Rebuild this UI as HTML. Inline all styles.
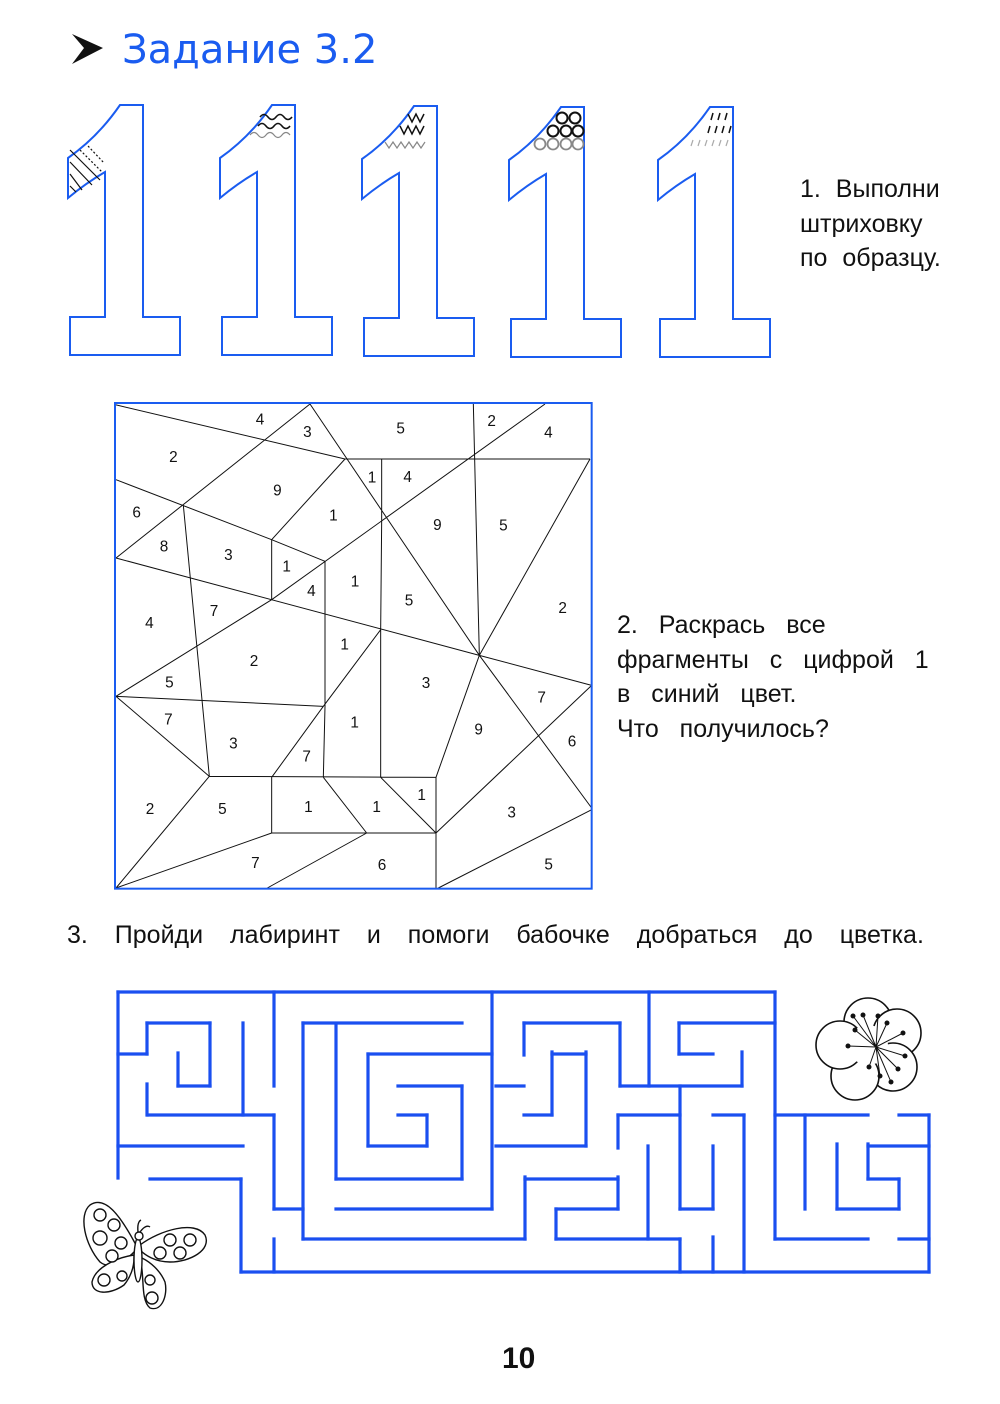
<!DOCTYPE html>
<html><head><meta charset="utf-8"><style>
body{margin:0;background:#fff;}
.pg{position:relative;width:1000px;height:1404px;overflow:hidden;font-family:"Liberation Sans","DejaVu Sans",sans-serif;color:#111;}
.t{position:absolute;font-size:25px;line-height:34.5px;white-space:nowrap;word-spacing:8px;}
</style></head><body><div class="pg">
<svg width="1000" height="1404" style="position:absolute;left:0;top:0">
<defs>
<path id="one" d="M52,0 L75,0 L75,212 L112,212 L112,250 L2,250 L2,212 L37,212 L37,67 Q18,78 0,93 L0,53 Q30,32 52,0 Z" fill="none" stroke="#1a5cf0" stroke-width="2"/>
</defs>
<path d="M72,34 L103,48 L72,64 L84,48 Z" fill="#111"/>
<text x="122" y="63" font-family="DejaVu Sans, Liberation Sans, sans-serif" font-size="40" fill="#1a5cf0">Задание  3.2</text>
<use href="#one" x="68" y="105"/>
<use href="#one" x="220" y="105"/>
<use href="#one" x="362" y="106"/>
<use href="#one" x="509" y="107"/>
<use href="#one" x="658" y="107"/>
<g stroke="#111" stroke-width="1.2" fill="none">
<path d="M70,150 L100,180 M70,162 L92,185 M70,174 L82,190 M70,186 L76,192"/>
<path d="M80,150 L102,172 M88,146 L104,163" stroke-dasharray="2,2"/>
<path d="M260,117 q4,-5 8,0 t8,0 t8,0 t8,0 M258,126 q4,-5 8,0 t8,0 t8,0 t8,0" stroke-width="1.6"/>
<path d="M250,135 q4,-5 8,0 t8,0 t8,0 t8,0 t8,0" stroke="#888"/>
<path d="M408,114 l4,8 l4,-8 l4,8 l4,-8 M400,126 l4,8 l4,-8 l4,8 l4,-8 l4,8 l4,-8" stroke-width="1.5"/>
<path d="M385,142 l4,6 l4,-6 l4,6 l4,-6 l4,6 l4,-6 l4,6 l4,-6 l4,6 l4,-6" stroke="#888"/>
<g stroke-width="2"><circle cx="562" cy="118" r="5.5"/><circle cx="575" cy="118" r="5.5"/><circle cx="553" cy="131" r="5.5"/><circle cx="566" cy="131" r="5.5"/><circle cx="578" cy="131" r="5.5"/></g>
<g stroke="#888" stroke-width="1.8"><circle cx="540" cy="144" r="5.5"/><circle cx="553" cy="144" r="5.5"/><circle cx="566" cy="144" r="5.5"/><circle cx="578" cy="144" r="5.5"/></g>
<path d="M711,120 l2,-7 M718,120 l2,-7 M725,120 l2,-7 M708,133 l2,-7 M715,133 l2,-7 M722,133 l2,-7 M729,133 l2,-7" stroke-width="1.5"/>
<path d="M691,146 l2,-6 M698,146 l2,-6 M705,146 l2,-6 M712,146 l2,-6 M719,146 l2,-6 M726,146 l2,-6" stroke="#aaa"/>
</g>
<svg x="110" y="398" width="490" height="496" viewBox="0 0 1470 1488">
<g stroke="#111" stroke-width="3" fill="none">
<path d="M15,20 L705,183 M600,18 L18,480 M600,18 L1108,772 L1445,1230 M705,183 L1440,183 M815,183 L815,368 L812,695 L812,1138 M1090,18 L1108,772 M1305,18 L485,605 L18,895 M705,183 L485,425 L485,605 M18,245 L485,425 L645,490 L645,925 L640,1138 M220,322 L298,1135 M18,480 L1108,772 L1445,862 M1440,183 L1108,772 M18,895 L640,925 L812,695 M18,895 L298,1135 L978,1138 M640,925 L485,1138 L485,1305 L978,1305 M640,1138 L770,1305 M812,1138 L978,1305 M978,1138 L1108,772 M978,1138 L978,1470 M978,1305 L1445,862 M298,1135 L18,1470 M485,1305 L18,1470 M770,1305 L472,1470 M985,1470 L1445,1235"/>
</g>
<rect x="15" y="15" width="1430" height="1457" fill="none" stroke="#1a5cf0" stroke-width="6"/>
<g font-family="Liberation Sans, sans-serif" font-size="46" fill="#111" text-anchor="middle">
<text x="450" y="80">4</text><text x="592" y="117">3</text><text x="872" y="107">5</text><text x="1145" y="84">2</text><text x="1315" y="118">4</text>
<text x="190" y="192">2</text><text x="502" y="292">9</text><text x="786" y="254">1</text><text x="893" y="252">4</text>
<text x="80" y="358">6</text><text x="670" y="368">1</text><text x="982" y="396">9</text><text x="1180" y="398">5</text>
<text x="162" y="460">8</text><text x="355" y="486">3</text><text x="530" y="520">1</text><text x="735" y="566">1</text><text x="604" y="594">4</text>
<text x="897" y="622">5</text><text x="1358" y="645">2</text><text x="118" y="690">4</text><text x="312" y="654">7</text>
<text x="704" y="754">1</text><text x="432" y="804">2</text><text x="948" y="870">3</text><text x="178" y="868">5</text>
<text x="1295" y="914">7</text><text x="175" y="980">7</text><text x="734" y="988">1</text><text x="1106" y="1010">9</text><text x="1386" y="1046">6</text>
<text x="370" y="1052">3</text><text x="590" y="1090">7</text><text x="935" y="1206">1</text><text x="1205" y="1258">3</text>
<text x="120" y="1248">2</text><text x="337" y="1248">5</text><text x="595" y="1242">1</text><text x="800" y="1242">1</text>
<text x="436" y="1410">7</text><text x="816" y="1416">6</text><text x="1316" y="1414">5</text>
</g>
</svg>
<g stroke="#1a4ff0" stroke-width="3.2" fill="none" stroke-linecap="square">
<path d="M118,992 L775,992 M147,1023 L210,1023 M303,1023 L462,1023 M524,1023 L620,1023 M679,1023 L775,1023 M118,1054 L147,1054 M368,1054 L492,1054 M552,1054 L586,1054 M679,1054 L713,1054 M178,1086 L210,1086 M398,1086 L462,1086 M496,1086 L524,1086 M620,1086 L742,1086 M148,1115 L274,1115 M398,1115 L427,1115 M524,1115 L552,1115 M618,1115 L680,1115 M713,1115 L744,1115 M775,1115 L868,1115 M899,1115 L929,1115 M118,1146 L243,1146 M368,1146 L427,1146 M496,1146 L586,1146 M868,1146 L929,1146 M150,1179 L241,1179 M336,1179 L462,1179 M525,1179 L618,1179 M868,1179 L899,1179 M274,1209 L303,1209 M336,1209 L492,1209 M556,1209 L618,1209 M680,1209 L713,1209 M837,1209 L899,1209 M303,1239 L525,1239 M556,1239 L680,1239 M775,1239 L868,1239 M899,1239 L929,1239 M241,1272 L929,1272"/>
<path d="M118,992 L118,1178 M147,1023 L147,1054 M147,1084 L147,1115 M178,1053 L178,1086 M210,1023 L210,1086 M243,1023 L243,1115 M241,1179 L241,1272 M274,992 L274,1086 M274,1115 L274,1209 M274,1239 L274,1272 M303,1023 L303,1239 M336,1026 L336,1179 M368,1054 L368,1146 M427,1115 L427,1146 M462,1086 L462,1179 M492,992 L492,1209 M524,1023 L524,1055 M525,1177 L525,1239 M552,1052 L552,1115 M556,1209 L556,1239 M586,1052 L586,1146 M618,1115 L618,1148 M618,1177 L618,1209 M620,1023 L620,1086 M649,992 L649,1086 M648,1146 L648,1239 M680,1086 L680,1209 M680,1239 L680,1272 M679,1023 L679,1054 M713,1146 L713,1209 M713,1237 L713,1272 M742,1052 L742,1086 M744,1115 L744,1272 M775,992 L775,1239 M805,1115 L805,1209 M837,1144 L837,1209 M868,1144 L868,1179 M899,1179 L899,1209 M929,1115 L929,1272"/>
</g>
<g stroke="#111" stroke-width="1.6" fill="#fff">
<circle cx="868" cy="1022" r="24"/><circle cx="897" cy="1033" r="24"/><circle cx="893" cy="1067" r="24"/><circle cx="855" cy="1076" r="24"/><circle cx="840" cy="1045" r="24"/>
<circle cx="868" cy="1045" r="20" stroke="none"/>
<g fill="none" stroke-width="1"><path d="M876,1047 L853,1016 M876,1047 L863,1015 M876,1047 L878,1016 M876,1047 L887,1023 M876,1047 L903,1033 M876,1047 L905,1056 M876,1047 L898,1069 M876,1047 L891,1082 M876,1047 L880,1076 M876,1047 L869,1067 M876,1047 L848,1046 M876,1047 L855,1030"/></g>
<g fill="#111" stroke="none"><circle cx="853" cy="1016" r="2.5"/><circle cx="863" cy="1015" r="2.5"/><circle cx="878" cy="1016" r="2.5"/><circle cx="887" cy="1023" r="2.5"/><circle cx="903" cy="1033" r="2.5"/><circle cx="905" cy="1056" r="2.5"/><circle cx="898" cy="1069" r="2.5"/><circle cx="891" cy="1082" r="2.5"/><circle cx="880" cy="1076" r="2.5"/><circle cx="869" cy="1067" r="2.5"/><circle cx="848" cy="1046" r="2.5"/><circle cx="855" cy="1030" r="2.5"/></g>
</g>
<g stroke="#111" stroke-width="1.4" fill="#fff">
<path d="M136,1245 C120,1215 105,1195 90,1205 C78,1215 85,1245 100,1262 C110,1270 125,1262 136,1250 Z"/>
<path d="M140,1245 C160,1230 195,1220 205,1235 C212,1250 190,1262 170,1262 C155,1262 145,1255 140,1250 Z"/>
<path d="M134,1255 C115,1258 95,1268 92,1282 C92,1295 110,1295 124,1285 C130,1278 134,1268 134,1258 Z"/>
<path d="M140,1258 C145,1275 140,1300 150,1308 C162,1312 168,1295 165,1282 C160,1270 150,1262 142,1258 Z"/>
<ellipse cx="138" cy="1260" rx="4" ry="22"/>
<circle cx="139" cy="1236" r="4"/>
<path d="M138,1232 Q137,1222 141,1220 M140,1232 Q146,1224 150,1227" fill="none"/>
<circle cx="100" cy="1215" r="6"/><circle cx="114" cy="1225" r="6"/><circle cx="100" cy="1238" r="7"/><circle cx="121" cy="1243" r="6"/><circle cx="112" cy="1256" r="6"/>
<circle cx="170" cy="1240" r="6"/><circle cx="190" cy="1240" r="6"/><circle cx="160" cy="1253" r="6"/><circle cx="180" cy="1253" r="6"/>
<circle cx="104" cy="1280" r="6"/><circle cx="122" cy="1276" r="5"/><circle cx="150" cy="1280" r="5"/><circle cx="152" cy="1298" r="6"/>
</g>
</svg>
<div class="t" style="left:800px;top:172px;">1. Выполни<br>штриховку<br>по образцу.</div>
<div class="t" style="left:617px;top:608px;word-spacing:14px;">2. Раскрась все<br>фрагменты с цифрой 1<br>в синий цвет.<br>Что получилось?</div>
<div class="t" style="left:67px;top:918px;word-spacing:20px;">3. Пройди лабиринт и помоги бабочке добраться до цветка.</div>
<div style="position:absolute;left:502px;top:1342px;font-size:30px;font-weight:bold;">10</div>
</div></body></html>
